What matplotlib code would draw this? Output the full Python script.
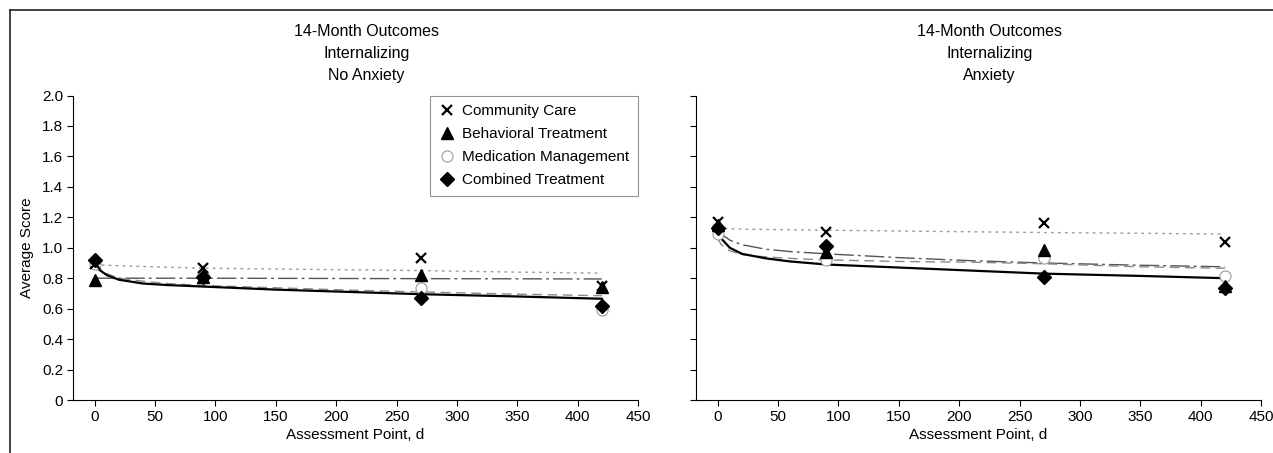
import matplotlib.pyplot as plt
from matplotlib.lines import Line2D

plt.rcParams['font.family'] = ['Liberation Sans Narrow', 'Liberation Sans', 'DejaVu Sans']
plt.rcParams['font.size'] = 11

groups = ['Community Care', 'Behavioral Treatment', 'Medication Management', 'Combined Treatment']
days = [0, 90, 270, 420]
fit_days = [0, 3, 10, 20, 40, 60, 90, 150, 210, 270, 350, 420]

# observed means, No Anxiety panel
noanx_cc = [0.89, 0.87, 0.93, 0.75]
noanx_bt = [0.785, 0.81, 0.82, 0.74]
noanx_mm = [0.895, 0.82, 0.735, 0.59]
noanx_ct = [0.92, 0.81, 0.67, 0.615]
# fitted curves, No Anxiety panel
noanx_cc_fit = [0.89, 0.888, 0.885, 0.882, 0.877, 0.872, 0.866, 0.86, 0.855, 0.85, 0.84, 0.833]
noanx_bt_fit = [0.80, 0.80, 0.80, 0.80, 0.80, 0.80, 0.80, 0.799, 0.798, 0.797, 0.796, 0.795]
noanx_mm_fit = [0.90, 0.87, 0.83, 0.80, 0.78, 0.765, 0.752, 0.737, 0.722, 0.71, 0.695, 0.685]
noanx_ct_fit = [0.90, 0.86, 0.82, 0.79, 0.765, 0.755, 0.745, 0.725, 0.71, 0.695, 0.68, 0.665]

# observed means, Anxiety panel
anx_cc = [1.17, 1.105, 1.16, 1.04]
anx_bt = [1.15, 0.97, 0.985, 0.75]
anx_mm = [1.09, 0.92, 0.935, 0.815]
anx_ct = [1.13, 1.01, 0.81, 0.735]
# fitted curves, Anxiety panel
anx_cc_fit = [1.13, 1.128, 1.125, 1.122, 1.12, 1.118, 1.115, 1.11, 1.105, 1.10, 1.095, 1.09]
anx_bt_fit = [1.12, 1.09, 1.05, 1.02, 0.99, 0.975, 0.96, 0.935, 0.915, 0.90, 0.885, 0.875]
anx_mm_fit = [1.06, 1.02, 0.98, 0.955, 0.94, 0.93, 0.92, 0.91, 0.905, 0.895, 0.875, 0.865]
anx_ct_fit = [1.12, 1.06, 1.0, 0.96, 0.93, 0.91, 0.89, 0.87, 0.85, 0.83, 0.815, 0.80]

xticks = [0, 50, 100, 150, 200, 250, 300, 350, 400, 450]
yticks = [0, 0.2, 0.4, 0.6, 0.8, 1.0, 1.2, 1.4, 1.6, 1.8, 2.0]
ytick_labels = ['0', '0.2', '0.4', '0.6', '0.8', '1.0', '1.2', '1.4', '1.6', '1.8', '2.0']

line_styles = [
    dict(color='#9a9a9a', linestyle=(0, (2, 3)), linewidth=1.0),
    dict(color='#555555', linestyle=(0, (14, 3, 2, 3)), linewidth=1.0),
    dict(color='#8a8a8a', linestyle=(0, (7, 4)), linewidth=1.0),
    dict(color='black', linestyle='-', linewidth=1.6),
]
marker_styles = [
    dict(marker='x', markersize=7, markeredgewidth=1.6, color='black'),
    dict(marker='^', markersize=8, color='black'),
    dict(marker='o', markersize=8, markerfacecolor='white', markeredgecolor='#999999',
         markeredgewidth=0.8, color='#999999'),
    dict(marker='D', markersize=7.5, color='black'),
]

fig = plt.figure(figsize=(12.73, 4.53), dpi=100)
ax1 = fig.add_axes([73 / 1273, 53 / 453, 565 / 1273, 304.5 / 453])
ax2 = fig.add_axes([696 / 1273, 53 / 453, 565 / 1273, 304.5 / 453])

panels = [
    (ax1, [noanx_cc_fit, noanx_bt_fit, noanx_mm_fit, noanx_ct_fit],
     [noanx_cc, noanx_bt, noanx_mm, noanx_ct], 'No Anxiety'),
    (ax2, [anx_cc_fit, anx_bt_fit, anx_mm_fit, anx_ct_fit],
     [anx_cc, anx_bt, anx_mm, anx_ct], 'Anxiety'),
]

for ax, fits, means, sub in panels:
    for i in range(4):
        ax.plot(fit_days, fits[i], zorder=2, **line_styles[i])
    for i in [2, 0, 1, 3]:
        ax.plot(days, means[i], linestyle='none', zorder=3, **marker_styles[i])
    ax.set_xlim(-18, 450)
    ax.set_ylim(0, 2.0)
    ax.set_xticks(xticks)
    ax.set_yticks(yticks)
    ax.spines['top'].set_visible(False)
    ax.spines['right'].set_visible(False)
    ax.tick_params(direction='out', length=4, width=0.8, labelsize=11, pad=3)
    ax.set_xlabel('Assessment Point, d', fontsize=11, labelpad=3)
    bb = ax.get_position()
    fig.text(bb.x0 + bb.width / 2 + 11 / 1273, 1 - 24 / 453,
             '14-Month Outcomes\nInternalizing\n' + sub,
             ha='center', va='top', fontsize=11.5, linespacing=1.6)

ax1.set_yticklabels(ytick_labels)
ax1.set_ylabel('Average Score', fontsize=11, labelpad=6)
ax2.set_yticklabels([])

handles = [Line2D([], [], linestyle='none', **marker_styles[i]) for i in range(4)]
leg = ax1.legend(handles, groups, loc='upper right', borderaxespad=0, frameon=True,
                 fancybox=False, edgecolor='#777777', fontsize=11, handletextpad=0.4,
                 labelspacing=0.6, borderpad=0.55, handlelength=1.2)
leg.get_frame().set_linewidth(0.8)

# scan frame lines
fig.add_artist(Line2D([10 / 1273, 1], [1 - 10 / 453, 1 - 10 / 453], color='#222222', linewidth=1.2))
fig.add_artist(Line2D([10 / 1273, 10 / 1273], [0, 1 - 10 / 453], color='#222222', linewidth=1.2))

fig.savefig('out.png', dpi=100)
